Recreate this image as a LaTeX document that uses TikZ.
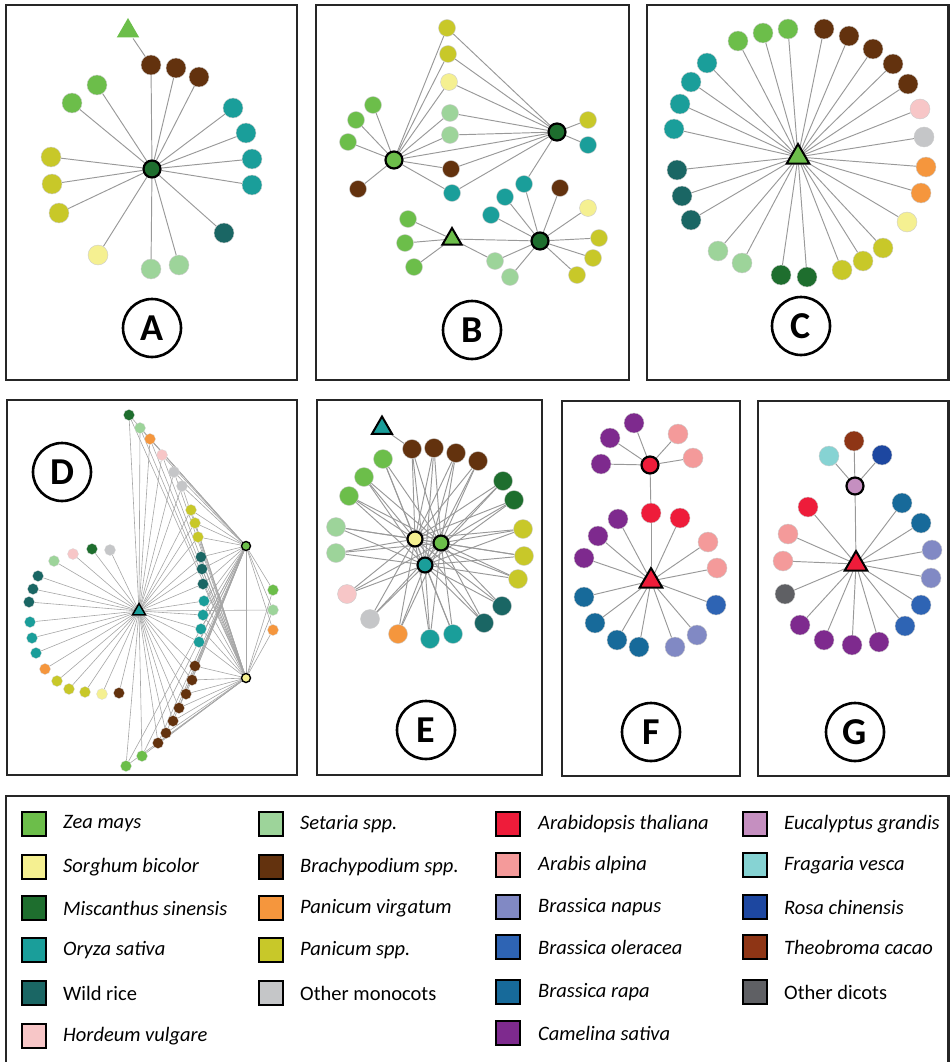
\documentclass[tikz,border=0pt]{standalone}
\usepackage{fontspec}
\setmainfont{Carlito}
\usetikzlibrary{shapes.geometric}

\definecolor{zea}{RGB}{108,190,74}
\definecolor{sorghum}{RGB}{245,240,145}
\definecolor{misc}{RGB}{30,110,46}
\definecolor{oryza}{RGB}{26,158,154}
\definecolor{wildrice}{RGB}{26,102,100}
\definecolor{hordeum}{RGB}{247,198,199}
\definecolor{setaria}{RGB}{157,212,154}
\definecolor{brachy}{RGB}{99,50,14}
\definecolor{pvirg}{RGB}{245,150,61}
\definecolor{panicum}{RGB}{200,200,41}
\definecolor{othermono}{RGB}{197,198,200}
\definecolor{arabid}{RGB}{238,28,58}
\definecolor{arabis}{RGB}{244,154,154}
\definecolor{napus}{RGB}{129,137,196}
\definecolor{oleracea}{RGB}{46,100,180}
\definecolor{rapa}{RGB}{23,106,154}
\definecolor{camelina}{RGB}{126,42,142}
\definecolor{eucal}{RGB}{197,143,192}
\definecolor{fragaria}{RGB}{134,211,211}
\definecolor{rosa}{RGB}{29,71,160}
\definecolor{theobroma}{RGB}{142,53,21}
\definecolor{otherdicot}{RGB}{95,96,100}

\pgfdeclarelayer{bg}
\pgfsetlayers{bg,main}

\tikzset{
  leaf/.style={circle, fill=#1, draw=black!20, line width=0.4pt, inner sep=0pt, minimum size=20pt},
  sdot/.style={circle, fill=#1, draw=black!15, line width=0.3pt, inner sep=0pt, minimum size=11pt},
  hub/.style={circle, fill=#1, draw=black, line width=2.2pt, inner sep=0pt, minimum size=17pt},
  smallhub/.style={circle, fill=#1, draw=black, line width=1.4pt, inner sep=0pt, minimum size=9pt},
  tri/.style={regular polygon, regular polygon sides=3, fill=#1, draw=black, line width=2pt, inner sep=0pt, minimum size=26pt},
  link/.style={draw=black!40, line width=0.95pt},
  thinlink/.style={draw=black!35, line width=0.6pt},
  panel/.style={draw=black!85, line width=2.5pt},
  plabel/.style={circle, draw, line width=2.6pt, minimum size=58pt, inner sep=0pt, font=\bfseries\fontsize{38}{38}\selectfont},
  swatch/.style={draw, line width=1.6pt, fill=#1, minimum size=24pt, inner sep=0pt},
  keytext/.style={anchor=west, inner sep=0pt, font=\itshape\fontsize{20.5}{22}\selectfont}
}

\begin{document}
\begin{tikzpicture}[x=1pt,y=-1pt]
\useasboundingbox (0,0) rectangle (950,1062);

% frames
\draw[panel] (6,5) rectangle (297,380);
\draw[panel] (316,5) rectangle (629,380);
\draw[panel] (647,5) rectangle (948.5,380);
\draw[panel] (7,400) rectangle (297,775);
\draw[panel] (317,400) rectangle (542,775);
\draw[panel] (562,401) rectangle (740,776);
\draw[panel] (758,401) rectangle (948.5,776);
\draw[panel] (6,1062) -- (6,796) -- (948.5,796) -- (948.5,1062);

\node[plabel] (labA) at (152,328) {A};
\node[plabel] (labB) at (472,330) {B};
\node[plabel] (labC) at (801,326) {C};
\node[plabel] (labD) at (62,472) {D};
\node[plabel] (labE) at (426,730) {E};
\node[plabel] (labF) at (651,732) {F};
\node[plabel] (labG) at (855,732) {G};

% A
\node[hub=misc] (Ahub) at (152,169) {};
\node[tri=zea, draw=none, minimum size=26pt] (Atri) at (128,31) {};
\foreach \x/\y/\c [count=\i] in {151/65/brachy, 176/68/brachy, 199/77/brachy,
    233/108/oryza, 246/133/oryza, 252/159/oryza, 252/185/oryza, 224/233/wildrice,
    179/265/setaria, 151/269/setaria, 98/255/sorghum, 59/213/panicum,
    52/184/panicum, 51/157/panicum, 72/103/zea, 97/85/zea}
  \node[leaf=\c] (a\i) at (\x,\y) {};
\begin{pgfonlayer}{bg}
\foreach \i in {1,...,16} \draw[link] (Ahub) -- (a\i);
\draw[link] (Atri) -- (a1);
\end{pgfonlayer}

% B
\node[hub=zea] (Bl) at (394,160) {};
\node[hub=misc] (Br) at (557,132) {};
\node[hub=misc] (Bb) at (540,241) {};
\node[tri=zea, minimum size=22pt] (Bt) at (452,239) {};
\foreach \x/\y/\c [count=\i] in {447/28/panicum, 448/54/panicum, 449/82/sorghum,
    450/113/setaria, 450/135/setaria, 451/169/brachy, 452/193/oryza}
  \node[leaf=\c, minimum size=17pt] (m\i) at (\x,\y) {};
\foreach \x/\y/\c [count=\i] in {373/105/zea, 356/120/zea, 348/142/zea, 358/189/brachy,
    588/120/panicum, 588/145/oryza, 524/184/oryza,
    408/219/zea, 405/243/zea, 414/267/zea, 495/261/setaria,
    505/197/oryza, 491/215/oryza, 560/188/brachy, 588/208/sorghum,
    599/238/panicum, 593/258/panicum, 577/275/panicum, 510/277/setaria}
  \node[leaf=\c, minimum size=17pt] (b\i) at (\x,\y) {};
\begin{pgfonlayer}{bg}
\foreach \i in {1,...,7} {\draw[link] (Bl) -- (m\i); \draw[link] (Br) -- (m\i);}
\draw[link] (Bl) -- (Br);
\foreach \i in {1,...,4} \draw[link] (Bl) -- (b\i);
\foreach \i in {5,6,7} \draw[link] (Br) -- (b\i);
\foreach \i in {8,...,11} \draw[link] (Bt) -- (b\i);
\draw[link] (Bt) -- (Bb);
\foreach \i in {7,11,12,13,14,15,16,17,18,19} \draw[link] (Bb) -- (b\i);
\end{pgfonlayer}

% C
\node[tri=zea] (Ct) at (798,157) {};
\foreach \x/\y/\c [count=\i] in {738/41/zea, 763/33/zea, 788/29/zea,
    824/29/brachy, 849/36/brachy, 873/49/brachy, 893/64/brachy, 908/84/brachy,
    920/109/hordeum, 924/137/othermono, 926/167/pvirg, 921/193/pvirg,
    907/222/sorghum, 883/248/panicum, 863/261/panicum, 842/270/panicum,
    807/277/misc, 781/275/misc, 742/263/setaria, 718/251/setaria,
    691/220/wildrice, 682/196/wildrice, 677/170/wildrice,
    674/129/oryza, 680/104/oryza, 691/82/oryza, 707/63/oryza}
  \node[leaf=\c] (c\i) at (\x,\y) {};
\begin{pgfonlayer}{bg}
\foreach \i in {1,...,27} \draw[link] (Ct) -- (c\i);
\end{pgfonlayer}

% D
\node[tri=oryza, line width=1.5pt, minimum size=15pt] (Dt) at (139,611) {};
\node[smallhub=zea] (Dg) at (246,546) {};
\node[smallhub=sorghum] (Dy) at (246,678) {};
\foreach \x/\y/\c [count=\i] in {54/561/setaria, 73/554/hordeum, 92/549/misc, 110/550/othermono,
    38/576/wildrice, 33/589/wildrice, 29/602/wildrice, 30/622/oryza, 32/638/oryza,
    36/653/oryza, 45/669/pvirg, 57/681/panicum, 69/689/panicum, 85/692/panicum,
    102/694/sorghum, 119/693/brachy}
  \node[sdot=\c] (dl\i) at (\x,\y) {};
\foreach \x/\y/\c [count=\i] in {129/415/misc, 140/428/setaria, 150/439/pvirg, 162/455/hordeum,
    174/472/othermono, 182/486/othermono, 191/510/panicum, 195/523/panicum, 198/537/panicum,
    201/557/wildrice, 202/569/wildrice, 203/584/wildrice, 204/601/oryza, 203/615/oryza,
    201/629/oryza, 199/642/oryza, 195/666/brachy, 192/680/brachy, 186/694/brachy,
    179/708/brachy, 173/721/brachy, 166/733/brachy, 158/743/brachy, 142/756/zea, 126/766/zea}
  \node[sdot=\c] (dr\i) at (\x,\y) {};
\foreach \x/\y/\c [count=\i] in {273/590/zea, 273/610/setaria, 273/630/pvirg}
  \node[sdot=\c] (df\i) at (\x,\y) {};
\begin{pgfonlayer}{bg}
\foreach \i in {1,...,16} \draw[thinlink] (Dt) -- (dl\i);
\foreach \i in {1,...,25} {\draw[thinlink] (Dt) -- (dr\i);
  \draw[thinlink] (Dg) -- (dr\i); \draw[thinlink] (Dy) -- (dr\i);}
\foreach \i in {1,2,3} {\draw[thinlink] (Dg) -- (df\i); \draw[thinlink] (Dy) -- (df\i);}
\draw[thinlink] (Dt) -- (df2);
\draw[thinlink] (Dg) -- (Dy);
\end{pgfonlayer}

% E
\node[hub=sorghum, minimum size=15pt] (Ey) at (415,539) {};
\node[hub=zea, minimum size=15pt] (Eg) at (441,543) {};
\node[hub=oryza, minimum size=15pt] (Eo) at (425,565) {};
\node[tri=oryza, minimum size=23pt] (Et) at (382,428) {};
\foreach \x/\y/\c [count=\i] in {412/449/brachy, 434/448/brachy, 456/453/brachy, 478/461/brachy,
    503/481/misc, 514/500/misc, 523/529/panicum, 524/556/panicum, 518/579/panicum,
    502/606/wildrice, 484/623/wildrice, 453/634/oryza, 430/639/oryza, 398/634/pvirg,
    370/619/othermono, 347/594/hordeum, 336/553/setaria, 336/527/setaria,
    349/496/zea, 364/477/zea, 383/459/zea}
  \node[leaf=\c, minimum size=19pt] (e\i) at (\x,\y) {};
\begin{pgfonlayer}{bg}
\foreach \i in {1,...,21} {\draw[link] (Ey) -- (e\i); \draw[link] (Eg) -- (e\i); \draw[link] (Eo) -- (e\i);}
\draw[link] (Et) -- (e1);
\end{pgfonlayer}

% F
\node[hub=arabid] (Fh) at (650,465) {};
\node[tri=arabid] (Ft) at (651,581) {};
\foreach \x/\y/\c [count=\i] in {634/423/camelina, 610/438/camelina, 601/464/camelina,
    678/434/arabis, 693/458/arabis}
  \node[leaf=\c] (ft\i) at (\x,\y) {};
\foreach \x/\y/\c [count=\i] in {651/513/arabid, 680/518/arabid, 708/542/arabis, 717/568/arabis,
    716/605/oleracea, 697/635/napus, 675/647/napus, 639/647/rapa, 617/640/rapa,
    595/623/rapa, 584/597/rapa, 584/558/camelina, 598/536/camelina, 618/519/camelina}
  \node[leaf=\c] (fl\i) at (\x,\y) {};
\begin{pgfonlayer}{bg}
\foreach \i in {1,...,5} \draw[link] (Fh) -- (ft\i);
\draw[link] (Fh) -- (fl1);
\foreach \i in {1,...,14} \draw[link] (Ft) -- (fl\i);
\end{pgfonlayer}

% G
\node[hub=eucal] (Gh) at (855,486) {};
\node[tri=arabid] (Gt) at (856,564) {};
\foreach \x/\y/\c [count=\i] in {829/456/fragaria, 854/441/theobroma, 882/455/rosa}
  \node[leaf=\c] (gt\i) at (\x,\y) {};
\foreach \x/\y/\c [count=\i] in {808/507/arabid, 788/534/arabis, 783/561/arabis, 785/594/otherdicot,
    800/625/camelina, 824/640/camelina, 852/645/camelina, 879/642/camelina,
    905/626/oleracea, 921/605/oleracea, 931/578/napus, 932/550/napus,
    921/523/rapa, 902/503/rapa}
  \node[leaf=\c] (gl\i) at (\x,\y) {};
\begin{pgfonlayer}{bg}
\foreach \i in {1,2,3} \draw[link] (Gh) -- (gt\i);
\draw[link] (Gh) -- (Gt);
\foreach \i in {1,...,14} \draw[link] (Gt) -- (gl\i);
\end{pgfonlayer}

% legend
\foreach \c/\t/\y [count=\i] in {zea/Zea mays/824, sorghum/Sorghum bicolor/867,
    misc/Miscanthus sinensis/908, oryza/Oryza sativa/950,
    wildrice/\upshape Wild rice/993, hordeum/Hordeum vulgare/1036}
  {\node[swatch=\c] (ka\i) at (34,\y) {}; \node[keytext] (ta\i) at (63,\y) {\t};}
\foreach \c/\t/\y [count=\i] in {setaria/Setaria spp./824, brachy/Brachypodium spp./867,
    pvirg/Panicum virgatum/908, panicum/Panicum spp./950,
    othermono/\upshape Other monocots/993}
  {\node[swatch=\c] (kb\i) at (271,\y) {}; \node[keytext] (tb\i) at (300,\y) {\t};}
\foreach \c/\t/\y [count=\i] in {arabid/Arabidopsis thaliana/824, arabis/Arabis alpina/865,
    napus/Brassica napus/907, oleracea/Brassica oleracea/947,
    rapa/Brassica rapa/992, camelina/Camelina sativa/1033}
  {\node[swatch=\c] (kc\i) at (508,\y) {}; \node[keytext] (tc\i) at (538,\y) {\t};}
\foreach \c/\t/\y [count=\i] in {eucal/Eucalyptus grandis/824, fragaria/Fragaria vesca/865,
    rosa/Rosa chinensis/907, theobroma/Theobroma cacao/947,
    otherdicot/\upshape Other dicots/992}
  {\node[swatch=\c] (kd\i) at (755,\y) {}; \node[keytext] (td\i) at (784,\y) {\t};}
\end{tikzpicture}
\end{document}
